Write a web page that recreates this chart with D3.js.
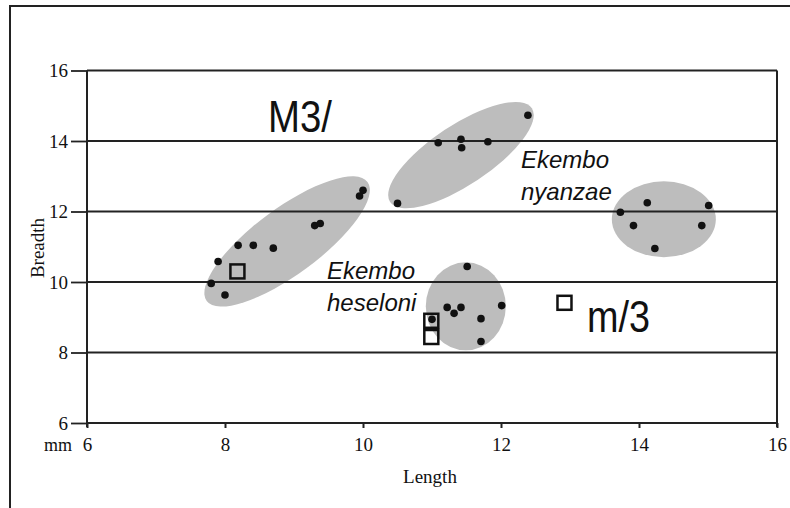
<!DOCTYPE html>
<html>
<head>
<meta charset="utf-8">
<script src="https://cdn.jsdelivr.net/npm/d3@7"></script>
<style>
  body { margin: 0; background: #fff; }
  svg { display: block; }
  .serif { font-family: 'Liberation Serif', 'Times New Roman', serif; font-size: 19px; fill: #111; }
</style>
</head>
<body>
<svg id="chart" width="790" height="508"></svg>
<script>
// tick values
const xTicks = [6, 8, 10, 12, 14, 16];
const yTicks = [6, 8, 10, 12, 14, 16];

// M3/ measurements (length, breadth)
const heseloniUpper = [[10.0, 12.6], [9.95, 12.44], [9.3, 11.6], [9.38, 11.66], [8.19, 11.04],
  [8.41, 11.04], [8.7, 10.96], [7.9, 10.58], [7.8, 9.96], [8.0, 9.63]];
const nyanzaeUpper = [[12.39, 14.73], [11.09, 13.95], [11.42, 14.05], [11.43, 13.81],
  [11.81, 13.98], [10.5, 12.23]];

// m/3 measurements
const heseloniLower = [[11.51, 10.44], [11.22, 9.28], [11.32, 9.11], [11.42, 9.28],
  [12.01, 9.33], [11.71, 8.96], [11.71, 8.31], [11.0, 8.94]];
const nyanzaeLower = [[13.73, 11.98], [14.12, 12.25], [15.01, 12.17], [13.92, 11.6],
  [14.91, 11.6], [14.23, 10.95]];

// open squares (other specimens)
const squares = [[8.18, 10.3], [10.99, 8.9], [10.99, 8.44], [12.92, 9.41]];

// group envelopes: centre (length, breadth)
const groupCentres = [[8.9, 11.15], [11.42, 13.6], [14.36, 11.78], [11.49, 9.31]];

let svg = d3.select("#chart");

let x = d3.scaleLinear().domain([6, 16]).range([87, 777]);
let y = d3.scaleLinear().domain([6, 16]).range([423, 70.5]);

// outer frame (left + top)
svg.append("path")
    .attr("d", "M10,508 L10,6 L790,6")
    .attr("fill", "none")
    .attr("stroke", "#222")
    .attr("stroke-width", 2);

// ellipses
const ellipseShape = [
  { rx: 100, ry: 33, rot: -36.5 },
  { rx: 85, ry: 30, rot: -33.5 },
  { rx: 52, ry: 38, rot: 0 },
  { rx: 40, ry: 44, rot: 0 }
];
svg.append("g").selectAll("ellipse")
    .data(groupCentres)
    .join("ellipse")
    .attr("cx", 0).attr("cy", 0)
    .attr("rx", (d, i) => ellipseShape[i].rx)
    .attr("ry", (d, i) => ellipseShape[i].ry)
    .attr("transform", (d, i) => `translate(${x(d[0])},${y(d[1])}) rotate(${ellipseShape[i].rot})`)
    .attr("fill", "#bdbdbd");

// grid lines
svg.append("g").selectAll("line.grid")
    .data(yTicks.filter(d => d > 6))
    .join("line")
    .attr("class", "grid")
    .attr("x1", x(6)).attr("x2", x(16))
    .attr("y1", d => y(d)).attr("y2", d => y(d))
    .attr("stroke", "#222")
    .attr("stroke-width", 1.8);

// left axis
let yAxis = svg.append("g")
    .attr("transform", `translate(${x(6)},0)`)
    .call(d3.axisLeft(y).tickValues(yTicks).tickSize(16).tickPadding(3));
yAxis.attr("font-family", null).attr("font-size", null);
yAxis.select(".domain").remove();
yAxis.selectAll("line").attr("stroke", "#222").attr("stroke-width", 1.8);
yAxis.selectAll("text").attr("class", "serif").attr("fill", null);

// bottom axis
let xAxis = svg.append("g")
    .attr("transform", `translate(0,${y(6)})`)
    .call(d3.axisBottom(x).tickValues(xTicks).tickSize(5).tickPadding(10));
xAxis.attr("font-family", null).attr("font-size", null);
xAxis.select(".domain").remove();
xAxis.selectAll("line").attr("stroke", "#222").attr("stroke-width", 2);
xAxis.selectAll("text").attr("class", "serif").attr("fill", null);

// plot box lines
svg.append("line")
    .attr("x1", x(6)).attr("x2", x(16))
    .attr("y1", y(6)).attr("y2", y(6))
    .attr("stroke", "#222").attr("stroke-width", 2);
svg.append("line")
    .attr("x1", x(6)).attr("x2", x(6))
    .attr("y1", y(16)).attr("y2", y(6) + 4)
    .attr("stroke", "#222").attr("stroke-width", 2);
svg.append("line")
    .attr("x1", x(16)).attr("x2", x(16))
    .attr("y1", y(16)).attr("y2", y(6) + 4)
    .attr("stroke", "#222").attr("stroke-width", 2);

// axis titles
svg.append("text")
    .attr("class", "serif")
    .attr("x", 44).attr("y", 451)
    .style("font-size", "18px")
    .text("mm");
svg.append("text")
    .attr("class", "serif")
    .attr("x", 430).attr("y", 483)
    .attr("text-anchor", "middle")
    .text("Length");
svg.append("text")
    .attr("class", "serif")
    .attr("transform", "translate(44,248) rotate(-90)")
    .attr("text-anchor", "middle")
    .text("Breadth");

// dots
const allDots = heseloniUpper.concat(nyanzaeUpper, heseloniLower, nyanzaeLower);
svg.append("g").selectAll("circle")
    .data(allDots)
    .join("circle")
    .attr("cx", d => x(d[0]))
    .attr("cy", d => y(d[1]))
    .attr("r", 3.8)
    .attr("fill", "#111");

// squares
svg.append("g").selectAll("rect")
    .data(squares)
    .join("rect")
    .attr("x", d => x(d[0]) - 7)
    .attr("y", d => y(d[1]) - 7)
    .attr("width", 14)
    .attr("height", 14)
    .attr("fill", "none")
    .attr("stroke", "#111")
    .attr("stroke-width", 2.5);

// labels
const sans = "'Liberation Sans', Arial, sans-serif";
svg.append("text")
    .attr("x", 268).attr("y", 132)
    .attr("font-family", sans).attr("font-size", 44)
    .attr("textLength", 64).attr("lengthAdjust", "spacingAndGlyphs")
    .attr("fill", "#111")
    .text("M3/");
svg.append("text")
    .attr("x", 587).attr("y", 332)
    .attr("font-family", sans).attr("font-size", 45)
    .attr("textLength", 63).attr("lengthAdjust", "spacingAndGlyphs")
    .attr("fill", "#111")
    .text("m/3");

function twoLine(x0, y0, l1, l2) {
  let t = svg.append("text")
      .attr("font-family", sans)
      .attr("font-size", 24)
      .attr("font-style", "italic")
      .attr("fill", "#111");
  t.append("tspan").attr("x", x0).attr("y", y0).text(l1);
  t.append("tspan").attr("x", x0).attr("y", y0 + 32).text(l2);
}
twoLine(521, 168, "Ekembo", "nyanzae");
twoLine(327, 279, "Ekembo", "heseloni");
</script>
</body>
</html>
